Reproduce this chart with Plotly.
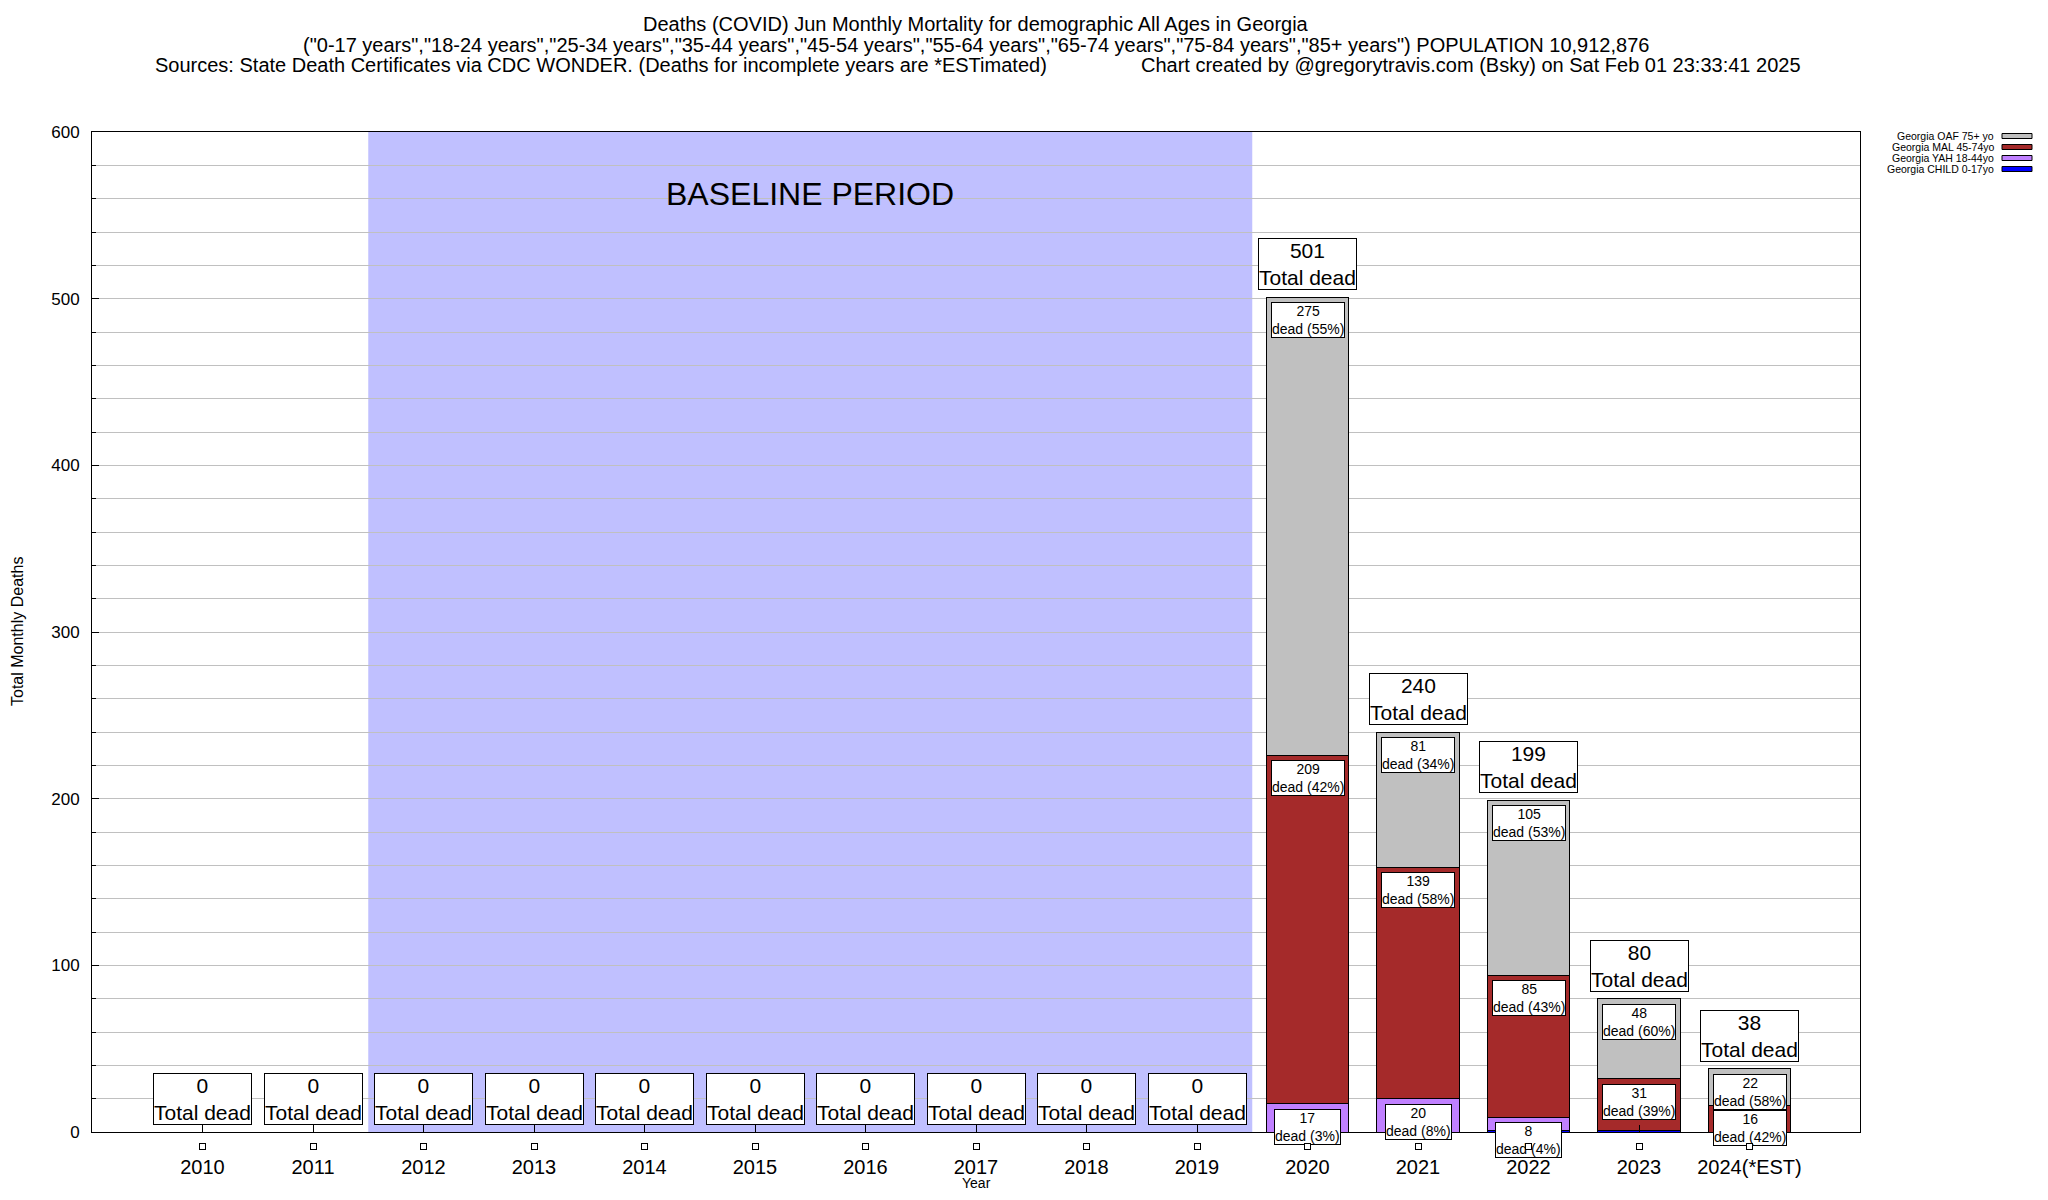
import plotly.graph_objects as go

# ---- data ----
years = ["2010", "2011", "2012", "2013", "2014", "2015", "2016", "2017", "2018", "2019",
         "2020", "2021", "2022", "2023", "2024(*EST)"]
child = [0, 0, 0, 0, 0, 0, 0, 0, 0, 0, 0, 0, 1, 1, 0]
yah = [0, 0, 0, 0, 0, 0, 0, 0, 0, 0, 17, 20, 8, 0, 0]
mal = [0, 0, 0, 0, 0, 0, 0, 0, 0, 0, 209, 139, 85, 31, 16]
oaf = [0, 0, 0, 0, 0, 0, 0, 0, 0, 0, 275, 81, 105, 48, 22]

series_names = ["Georgia CHILD 0-17yo", "Georgia YAH 18-44yo", "Georgia MAL 45-74yo", "Georgia OAF 75+ yo"]
series_vals = [child, yah, mal, oaf]
series_colors = ["#0000ff", "#c080ff", "#a52a2a", "#c0c0c0"]

baseline_start, baseline_end = 1.5, 9.5

FONT = "Liberation Sans, Arial, sans-serif"

totals = [sum(s[i] for s in series_vals) for i in range(len(years))]
xpos = list(range(len(years)))

# plot area in page pixels: x 92..1860, y 132..1132 ; page body margin 8px
PW, PH = 1768, 1000
def px(xp):
    return (xp - 92) / PW
def py(yp):
    return (1132 - yp) / PH

fig = go.Figure()
for name, vals, col in zip(series_names, series_vals, series_colors):
    fig.add_trace(go.Bar(
        x=xpos, y=vals, name=name, width=0.75,
        marker=dict(color=col, line=dict(color="black", width=1)),
        showlegend=False,
    ))

ann = []
for i in range(len(years)):
    cum = 0
    for vals in series_vals:
        v = vals[i]
        cum += v
        if v >= 5 and totals[i] > 0:
            pct = round(100 * v / totals[i])
            ann.append(dict(x=i, y=cum, xref="x", yref="y", text=f"{v}<br>dead ({pct}%)",
                            showarrow=False, xanchor="center", yanchor="top", yshift=-5,
                            font=dict(family=FONT, size=14, color="black"),
                            bgcolor="white", bordercolor="black", borderwidth=1, borderpad=0))
    ann.append(dict(x=i, y=totals[i], xref="x", yref="y", text=f"{totals[i]}<br>Total dead",
                    showarrow=False, xanchor="center", yanchor="bottom", yshift=7,
                    font=dict(family=FONT, size=21, color="black"),
                    bgcolor="white", bordercolor="black", borderwidth=1, borderpad=0))
    ann.append(dict(x=i, y=0, xref="x", yref="y", text=" ", showarrow=False,
                    yshift=-14, width=5, height=5, borderpad=0,
                    font=dict(size=4), bordercolor="black", borderwidth=1, bgcolor="white"))

ann.append(dict(x=(baseline_start + baseline_end) / 2, y=563, xref="x", yref="y",
                text="BASELINE PERIOD", showarrow=False, xanchor="center", yanchor="middle",
                font=dict(family=FONT, size=32, color="black")))

title_font = dict(family=FONT, size=20, color="black")
ann.append(dict(x=0.5, y=py(24), xref="paper", yref="paper", showarrow=False,
                text="Deaths (COVID) Jun Monthly Mortality for demographic All Ages in Georgia",
                font=title_font, xanchor="center", yanchor="middle"))
ann.append(dict(x=0.5, y=py(45), xref="paper", yref="paper", showarrow=False,
                text='("0-17 years","18-24 years","25-34 years","35-44 years","45-54 years","55-64 years","65-74 years","75-84 years","85+ years") POPULATION 10,912,876',
                font=title_font, xanchor="center", yanchor="middle"))
ann.append(dict(x=px(153), y=py(65), xref="paper", yref="paper", showarrow=False,
                text="Sources: State Death Certificates via CDC WONDER. (Deaths for incomplete years are *ESTimated)",
                font=title_font, yanchor="middle", xanchor="left"))
ann.append(dict(x=px(1139), y=py(65), xref="paper", yref="paper", showarrow=False,
                text="Chart created by @gregorytravis.com (Bsky) on Sat Feb 01 23:33:41 2025",
                font=title_font, yanchor="middle", xanchor="left"))

ann.append(dict(x=px(17), y=0.5, xref="paper", yref="paper", showarrow=False,
                text="Total Monthly Deaths", textangle=-90, xanchor="center", yanchor="middle",
                font=dict(family=FONT, size=16, color="black")))
ann.append(dict(x=0.5, y=py(1183), xref="paper", yref="paper", showarrow=False,
                text="Year", xanchor="center", yanchor="middle",
                font=dict(family=FONT, size=14, color="black")))

shapes = [dict(type="rect", xref="x", yref="y", x0=baseline_start, x1=baseline_end, y0=0, y1=600,
               fillcolor="#c0c0ff", line=dict(width=0), layer="below")]
legend_order = [3, 2, 1, 0]
for k, idx in enumerate(legend_order):
    yp = py(136 + 11 * k)
    ann.append(dict(x=px(1996), y=yp, xref="paper", yref="paper", showarrow=False,
                    text=series_names[idx], xanchor="right", yanchor="middle",
                    font=dict(family=FONT, size=10.5, color="black")))
    shapes.append(dict(type="rect", xref="paper", yref="paper",
                       x0=px(2002), x1=px(2032),
                       y0=yp - 0.0025, y1=yp + 0.0025,
                       fillcolor=series_colors[idx], line=dict(color="black", width=1)))

fig.update_layout(
    width=2032, height=1184,
    margin=dict(l=84, r=180, t=124, b=60),
    barmode="stack",
    plot_bgcolor="white", paper_bgcolor="white",
    annotations=ann, shapes=shapes,
    showlegend=False,
    font=dict(family=FONT, color="black"),
)
fig.update_xaxes(
    range=[-1, 15], tickmode="array", tickvals=xpos, ticktext=years,
    tickfont=dict(family=FONT, size=20, color="black"),
    ticks="inside", ticklen=7, tickcolor="black",
    showline=True, mirror=True, linecolor="black", linewidth=1,
    showgrid=False, zeroline=False, ticklabelstandoff=17,
)
fig.update_yaxes(
    range=[0, 600], dtick=100, tick0=0,
    tickfont=dict(family=FONT, size=17, color="black"),
    ticks="inside", ticklen=7, tickcolor="black",
    showline=True, mirror=True, linecolor="black", linewidth=1,
    showgrid=True, gridcolor="#c0c0c0", gridwidth=1, zeroline=False,
    minor=dict(dtick=20, showgrid=True, gridcolor="#c0c0c0", ticks="inside", ticklen=4, tickcolor="black"),
    ticklabelstandoff=8,
)

fig.write_html("out.html")
